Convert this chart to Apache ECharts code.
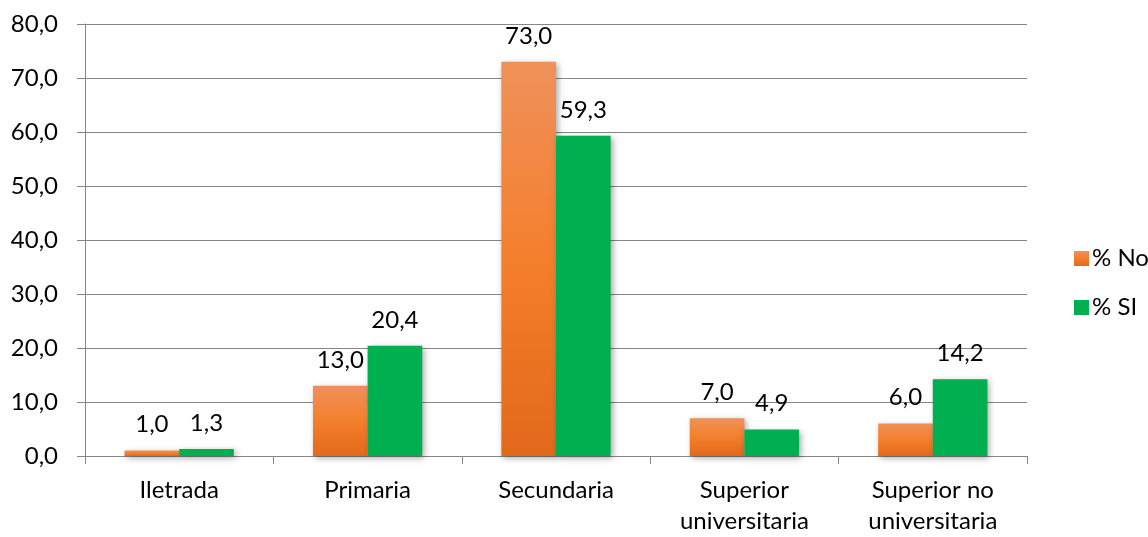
<!DOCTYPE html>
<html>
<head>
<meta charset="utf-8">
<script src="https://cdn.jsdelivr.net/npm/echarts@6/dist/echarts.min.js"></script>
<style>
  html, body { margin: 0; padding: 0; background: #ffffff; }
  #chart { width: 1148px; height: 537px; }
</style>
</head>
<body>
<div id="chart"></div>
<script>
// Nivel educativo: porcentajes por grupo
const categories = ['Iletrada', 'Primaria', 'Secundaria', 'Superior\nuniversitaria', 'Superior no\nuniversitaria'];
const seriesNames = ['% No', '% SI'];
const valuesNo = [1.0, 13.0, 73.0, 7.0, 6.0];
const valuesSi = [1.3, 20.4, 59.3, 4.9, 14.2];
const yTicks = { min: 0, max: 80, interval: 10 };

const FONT = 'Lato, "Open Sans", sans-serif';
const FS = 24;
const AXIS_GRAY = '#868686';

const fmt = v => Number(v).toFixed(1).replace('.', ',');

const orangeFill = new echarts.graphic.LinearGradient(0, 0, 0, 1, [
  { offset: 0, color: '#EF915A' },
  { offset: 0.5, color: '#F47F2C' },
  { offset: 1, color: '#E2691B' }
]);
const greenFill = '#00B050';

const barShadow = {
  shadowBlur: 6,
  shadowOffsetX: 2,
  shadowOffsetY: 2,
  shadowColor: 'rgba(0,0,0,0.35)'
};

const valueLabel = {
  show: true,
  position: 'top',
  distance: 14,
  color: '#000',
  fontFamily: FONT,
  fontSize: FS,
  formatter: p => fmt(p.value)
};

const chart = echarts.init(document.getElementById('chart'), null, { renderer: 'canvas' });

chart.setOption({
  animation: false,
  backgroundColor: '#ffffff',
  textStyle: { fontFamily: FONT },
  grid: { left: 85, right: 121, top: 24, bottom: 75, containLabel: false },
  legend: {
    orient: 'vertical',
    left: 1069,
    top: 241,
    icon: 'rect',
    itemWidth: 15,
    itemHeight: 15,
    itemGap: 24,
    textStyle: { color: '#000', fontFamily: FONT, fontSize: FS, lineHeight: 25, padding: [0, 0, 0, -2] },
    data: seriesNames
  },
  xAxis: {
    type: 'category',
    data: categories,
    axisLine: { show: true, lineStyle: { color: AXIS_GRAY, width: 1 } },
    axisTick: { show: true, length: 8, interval: 0, lineStyle: { color: AXIS_GRAY } },
    axisLabel: {
      interval: 0,
      margin: 19,
      color: '#000',
      fontFamily: FONT,
      fontSize: FS,
      lineHeight: 31
    },
    splitLine: { show: false }
  },
  yAxis: {
    type: 'value',
    min: yTicks.min,
    max: yTicks.max,
    interval: yTicks.interval,
    axisLine: { show: true, lineStyle: { color: AXIS_GRAY, width: 1 } },
    axisTick: { show: true, length: 8, lineStyle: { color: AXIS_GRAY } },
    axisLabel: {
      margin: 27,
      color: '#000',
      fontFamily: FONT,
      fontSize: FS,
      formatter: v => fmt(v)
    },
    splitLine: { show: true, lineStyle: { color: AXIS_GRAY, width: 1 } }
  },
  series: [
    {
      name: seriesNames[0],
      type: 'bar',
      data: valuesNo,
      barGap: '0%',
      barCategoryGap: '42%',
      itemStyle: Object.assign({ color: orangeFill }, barShadow),
      label: valueLabel
    },
    {
      name: seriesNames[1],
      type: 'bar',
      data: valuesSi,
      barGap: '0%',
      barCategoryGap: '42%',
      itemStyle: Object.assign({ color: greenFill }, barShadow),
      label: valueLabel
    }
  ]
});
</script>
</body>
</html>
